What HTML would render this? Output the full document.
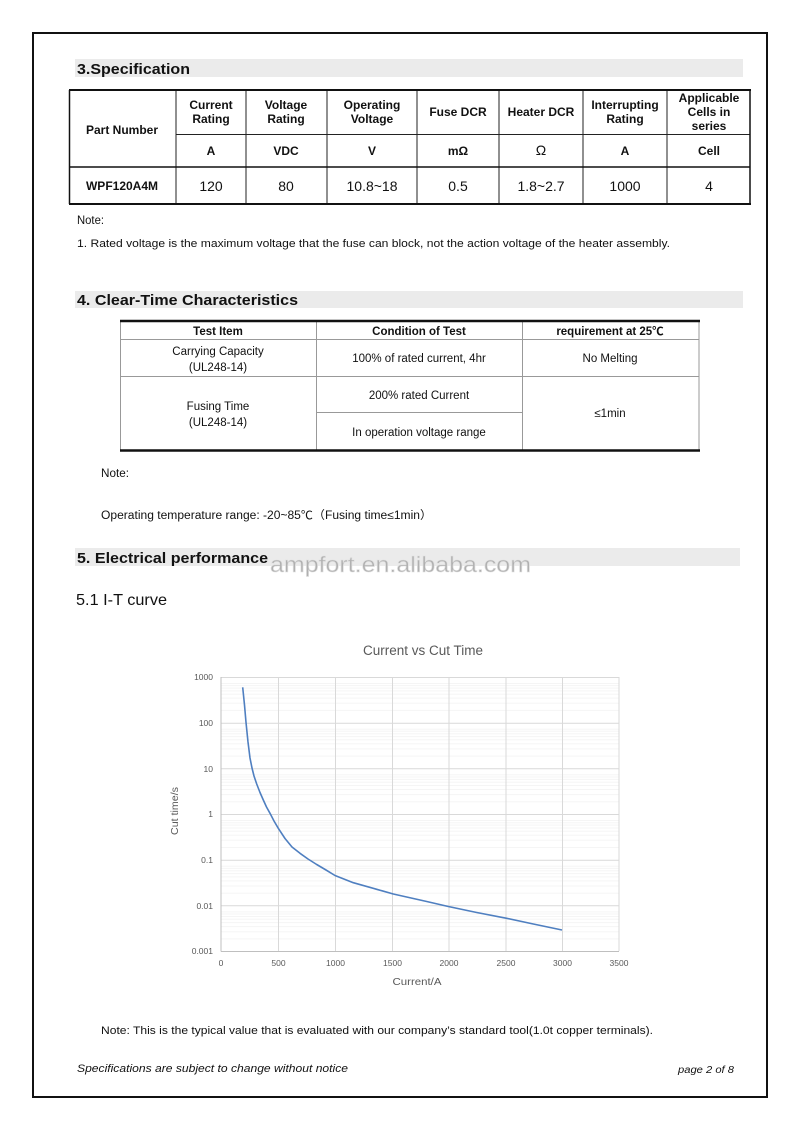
<!DOCTYPE html>
<html><head><meta charset="utf-8"><style>
html,body{margin:0;padding:0;background:#fff;}
svg{display:block;}
text{font-family:"Liberation Sans","Noto Sans CJK SC",sans-serif;fill:#111;}
.b{font-weight:bold;}
.th{font-size:12px;font-weight:bold;text-anchor:middle;}
.td{font-size:14px;text-anchor:middle;}
.t2{font-size:11.5px;text-anchor:middle;}
.ax{font-family:"Liberation Sans",sans-serif;fill:#595959;font-size:8.5px;}
</style></head><body>
<svg width="800" height="1131" viewBox="0 0 800 1131" xmlns="http://www.w3.org/2000/svg">
<rect x="0" y="0" width="800" height="1131" fill="#fff"/>
<rect x="33" y="33" width="734" height="1064" fill="none" stroke="#111" stroke-width="2"/>

<rect x="75" y="59" width="668" height="18" fill="#ebebeb"/>
<text x="77" y="74" class="b" font-size="15" textLength="113" lengthAdjust="spacingAndGlyphs">3.Specification</text>

<g stroke="#222" stroke-width="1">
<line x1="176" y1="90" x2="176" y2="204"/>
<line x1="246" y1="90" x2="246" y2="204"/>
<line x1="327" y1="90" x2="327" y2="204"/>
<line x1="417" y1="90" x2="417" y2="204"/>
<line x1="499" y1="90" x2="499" y2="204"/>
<line x1="583" y1="90" x2="583" y2="204"/>
<line x1="667" y1="90" x2="667" y2="204"/>
<line x1="176" y1="134.5" x2="750" y2="134.5"/>
</g>
<g stroke="#111">
<line x1="69" y1="167" x2="750" y2="167" stroke-width="1.5"/>
<line x1="69.5" y1="90" x2="69.5" y2="204" stroke-width="1.5"/>
<line x1="750" y1="90" x2="750" y2="204" stroke-width="1.5"/>
<line x1="69" y1="90" x2="751" y2="90" stroke-width="2"/>
<line x1="69" y1="204" x2="751" y2="204" stroke-width="2"/>
</g>
<text x="122" y="134" class="th">Part Number</text>
<text x="211" y="109" class="th">Current</text><text x="211" y="123" class="th">Rating</text>
<text x="286" y="109" class="th">Voltage</text><text x="286" y="123" class="th">Rating</text>
<text x="372" y="109" class="th">Operating</text><text x="372" y="123" class="th">Voltage</text>
<text x="458" y="116" class="th">Fuse DCR</text>
<text x="541" y="116" class="th">Heater DCR</text>
<text x="625" y="109" class="th">Interrupting</text><text x="625" y="123" class="th">Rating</text>
<text x="709" y="102" class="th">Applicable</text><text x="709" y="116" class="th">Cells in</text><text x="709" y="130" class="th">series</text>
<text x="211" y="155" class="th">A</text>
<text x="286" y="155" class="th">VDC</text>
<text x="372" y="155" class="th">V</text>
<text x="458" y="155" class="th">mΩ</text>
<text x="541" y="155" class="td" font-size="12">Ω</text>
<text x="625" y="155" class="th">A</text>
<text x="709" y="155" class="th">Cell</text>
<text x="122" y="190" class="th">WPF120A4M</text>
<text x="211" y="191" class="td">120</text>
<text x="286" y="191" class="td">80</text>
<text x="372" y="191" class="td">10.8~18</text>
<text x="458" y="191" class="td">0.5</text>
<text x="541" y="191" class="td">1.8~2.7</text>
<text x="625" y="191" class="td">1000</text>
<text x="709" y="191" class="td">4</text>

<text x="77" y="224" font-size="11.5" textLength="27" lengthAdjust="spacingAndGlyphs">Note:</text>
<text x="77" y="247" font-size="11" textLength="593" lengthAdjust="spacingAndGlyphs">1. Rated voltage is the maximum voltage that the fuse can block, not the action voltage of the heater assembly.</text>

<rect x="75" y="291" width="668" height="17" fill="#ebebeb"/>
<text x="77" y="305" class="b" font-size="15" textLength="221" lengthAdjust="spacingAndGlyphs">4. Clear-Time Characteristics</text>

<g stroke="#999" stroke-width="1">
<line x1="120.5" y1="321" x2="120.5" y2="450"/>
<line x1="699" y1="321" x2="699" y2="450"/>
<line x1="316.5" y1="321" x2="316.5" y2="450"/>
<line x1="522.5" y1="321" x2="522.5" y2="450"/>
<line x1="120" y1="339.5" x2="699" y2="339.5"/>
<line x1="120" y1="376.5" x2="699" y2="376.5"/>
<line x1="316" y1="412.5" x2="522" y2="412.5"/>
</g>
<line x1="120" y1="321" x2="700" y2="321" stroke="#111" stroke-width="2.5"/>
<line x1="120" y1="450.5" x2="700" y2="450.5" stroke="#111" stroke-width="2.5"/>
<text x="218" y="335" class="t2 b">Test Item</text>
<text x="419" y="335" class="t2 b">Condition of Test</text>
<text x="610" y="335" class="t2 b">requirement at 25℃</text>
<text x="218" y="355" class="t2">Carrying Capacity</text>
<text x="218" y="371" class="t2">(UL248-14)</text>
<text x="419" y="362" class="t2">100% of rated current, 4hr</text>
<text x="610" y="362" class="t2">No Melting</text>
<text x="218" y="410" class="t2">Fusing Time</text>
<text x="218" y="426" class="t2">(UL248-14)</text>
<text x="419" y="399" class="t2">200% rated Current</text>
<text x="419" y="436" class="t2">In operation voltage range</text>
<text x="610" y="417" class="t2">≤1min</text>

<text x="101" y="477" font-size="11.5" textLength="28" lengthAdjust="spacingAndGlyphs">Note:</text>
<text x="101" y="519" font-size="11.5" textLength="331" lengthAdjust="spacingAndGlyphs">Operating temperature range: -20~85℃（Fusing time≤1min）</text>

<rect x="75" y="548" width="665" height="18" fill="#ebebeb"/>
<text x="77" y="563" class="b" font-size="15" textLength="191" lengthAdjust="spacingAndGlyphs">5. Electrical performance</text>
<text x="270" y="572" font-size="22" style="fill:#b0b0b0" stroke="#e0e0e0" stroke-width="0.6" textLength="261" lengthAdjust="spacingAndGlyphs">ampfort.en.alibaba.com</text>

<text x="76" y="605" font-size="16" textLength="91" lengthAdjust="spacingAndGlyphs">5.1 I-T curve</text>

<text x="423" y="655" font-size="13.5" text-anchor="middle" style="fill:#595959" textLength="120" lengthAdjust="spacingAndGlyphs">Current vs Cut Time</text>
<g stroke="#f5f5f5" stroke-width="1">
<path d="M221 938.9H619M221 931.7H619M221 926.6H619M221 922.6H619M221 919.3H619M221 916.5H619M221 914H619M221 911.9H619
M221 893.2H619M221 886H619M221 880.9H619M221 876.9H619M221 873.6H619M221 870.8H619M221 868.4H619M221 866.2H619
M221 847.5H619M221 840.3H619M221 835.2H619M221 831.2H619M221 828H619M221 825.1H619M221 822.7H619M221 820.5H619
M221 801.8H619M221 794.6H619M221 789.5H619M221 785.5H619M221 782.3H619M221 779.4H619M221 777H619M221 774.8H619
M221 756.1H619M221 748.9H619M221 743.8H619M221 739.8H619M221 736.6H619M221 733.8H619M221 731.3H619M221 729.2H619
M221 710.4H619M221 703.2H619M221 698.1H619M221 694.2H619M221 690.9H619M221 688.1H619M221 685.6H619M221 683.5H619"/>
</g>
<g stroke="#d9d9d9" stroke-width="1">
<path d="M221 677.5H619M221 723.2H619M221 768.8H619M221 814.5H619M221 860.2H619M221 905.8H619"/>
<path d="M278.5 677V951M335.5 677V951M392.5 677V951M449 677V951M506 677V951M562.5 677V951M619 677V951"/>
</g>
<g stroke="#bfbfbf" stroke-width="1">
<line x1="221" y1="677" x2="221" y2="951.5"/>
<line x1="221" y1="951.5" x2="619" y2="951.5"/>
</g>
<polyline fill="none" stroke="#4f7fc0" stroke-width="1.6" stroke-linejoin="round" points="242.7,687.3 244.5,705 246,722.3 248,742 250,758 252,768 254,776 256.7,784 260,792.5 263.3,800 266.5,807 270,813.3 274,821 278.3,828.3 285,838.5 292,847 300,853.3 308,859 316.7,864.5 326,870 335,875.5 353.3,882.7 376.7,889.3 393.3,894 426.7,901.5 448.3,906.5 476.7,912.5 506.7,918.3 533.3,924 562,930"/>
<text x="213" y="680" class="ax" text-anchor="end">1000</text>
<text x="213" y="726" class="ax" text-anchor="end">100</text>
<text x="213" y="772" class="ax" text-anchor="end">10</text>
<text x="213" y="817" class="ax" text-anchor="end">1</text>
<text x="213" y="863" class="ax" text-anchor="end">0.1</text>
<text x="213" y="909" class="ax" text-anchor="end">0.01</text>
<text x="213" y="954" class="ax" text-anchor="end">0.001</text>
<text x="221" y="966" class="ax" text-anchor="middle">0</text>
<text x="278.5" y="966" class="ax" text-anchor="middle">500</text>
<text x="335.5" y="966" class="ax" text-anchor="middle">1000</text>
<text x="392.5" y="966" class="ax" text-anchor="middle">1500</text>
<text x="449" y="966" class="ax" text-anchor="middle">2000</text>
<text x="506" y="966" class="ax" text-anchor="middle">2500</text>
<text x="562.5" y="966" class="ax" text-anchor="middle">3000</text>
<text x="619" y="966" class="ax" text-anchor="middle">3500</text>
<text x="417" y="985" font-size="10.5" text-anchor="middle" style="fill:#595959" textLength="49" lengthAdjust="spacingAndGlyphs">Current/A</text>
<text x="0" y="0" font-size="10.5" text-anchor="middle" style="fill:#595959" transform="translate(178,811) rotate(-90)" textLength="48" lengthAdjust="spacingAndGlyphs">Cut time/s</text>

<text x="101" y="1034" font-size="11" textLength="552" lengthAdjust="spacingAndGlyphs">Note: This is the typical value that is evaluated with our company’s standard tool(1.0t copper terminals).</text>

<text x="77" y="1072" font-size="11" font-style="italic" textLength="271" lengthAdjust="spacingAndGlyphs">Specifications are subject to change without notice</text>
<text x="678" y="1073" font-size="10" font-style="italic" textLength="56" lengthAdjust="spacingAndGlyphs">page  2  of 8</text>
</svg>
</body></html>
